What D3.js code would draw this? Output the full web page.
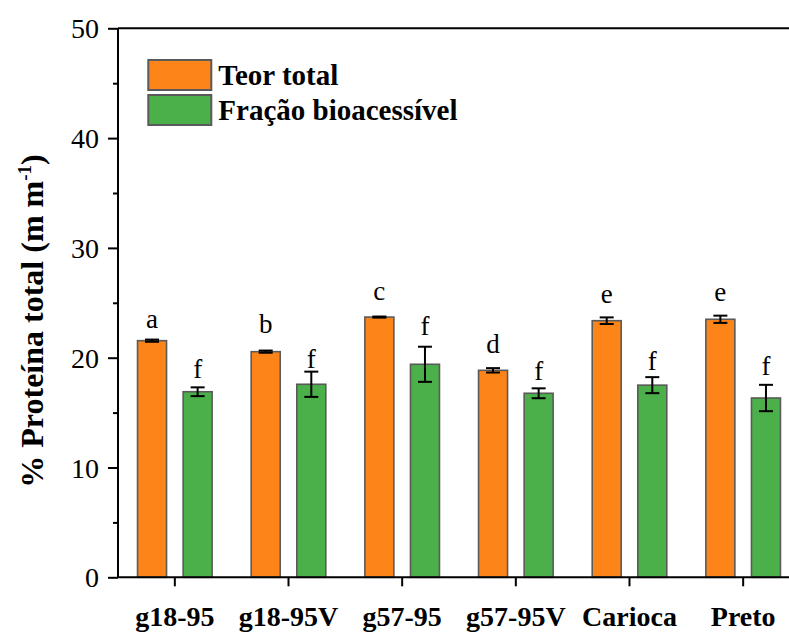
<!DOCTYPE html>
<html>
<head>
<meta charset="utf-8">
<script src="https://cdn.jsdelivr.net/npm/d3@7"></script>
<style>
  html, body { margin: 0; padding: 0; background: #fff; }
  svg { display: block; }
  svg text { font-family: "Times New Roman", "Liberation Serif", Times, serif !important; }
</style>
</head>
<body>
<svg id="chart" width="789" height="633"></svg>
<script>
// ---- Data ----
const categories = ["g18-95", "g18-95V", "g57-95", "g57-95V", "Carioca", "Preto"];
const seriesNames = ["Teor total", "Fração bioacessível"];
const teorTotal = [21.55, 20.55, 23.7, 18.85, 23.37, 23.5];
const teorTotalErr = [0.1, 0.1, 0.05, 0.2, 0.3, 0.33];
const fracao = [16.9, 17.58, 19.4, 16.76, 17.5, 16.33];
const fracaoErr = [0.4, 1.15, 1.6, 0.45, 0.73, 1.2];
const teorLetters = ["a", "b", "c", "d", "e", "e"];
const fracaoLetters = ["f", "f", "f", "f", "f", "f"];
const teorLetterAt = [22.7, 22.25, 25.25, 20.45, 24.95, 25.2];
const fracaoLetterAt = [18.15, 19.06, 22.07, 17.97, 18.88, 18.42];
const yTicks = [0, 10, 20, 30, 40, 50];
const yMinorTicks = [5, 15, 25, 35, 45];

const colors = ["#fc8418", "#4cb04a"];

// ---- Layout ----
const svg = d3.select("#chart");
const mLeft = 118, mRight = 800, mTop = 28.3, mBottom = 577.3;

const x = d3.scaleBand().domain(categories).range([mLeft, mRight]);
const xSub = d3.scaleBand().domain(seriesNames)
  .range([x.bandwidth() / 2 - 37.3, x.bandwidth() / 2 + 37.3]).paddingInner(0.364);
const y = d3.scaleLinear().domain([0, 50]).range([mBottom, mTop]);

const rows = categories.map((c, i) => ({
  cat: c,
  items: [
    { s: seriesNames[0], v: teorTotal[i], e: teorTotalErr[i], l: teorLetters[i], la: teorLetterAt[i], col: colors[0] },
    { s: seriesNames[1], v: fracao[i], e: fracaoErr[i], l: fracaoLetters[i], la: fracaoLetterAt[i], col: colors[1] }
  ]
}));

const g = svg.selectAll("g.cat").data(rows).join("g")
  .attr("class", "cat")
  .attr("transform", d => `translate(${x(d.cat)},0)`);

// bars
g.selectAll("rect").data(d => d.items).join("rect")
  .attr("x", d => xSub(d.s))
  .attr("width", xSub.bandwidth())
  .attr("y", d => y(d.v))
  .attr("height", d => y(0) - y(d.v))
  .attr("fill", d => d.col)
  .attr("stroke", "#5a5a5a")
  .attr("stroke-width", 1.6);

// error bars
const eb = g.selectAll("g.err").data(d => d.items).join("g").attr("class", "err")
  .attr("transform", d => `translate(${xSub(d.s) + xSub.bandwidth() / 2},0)`);
eb.append("line").attr("x1", 0).attr("x2", 0)
  .attr("y1", d => y(d.v + d.e)).attr("y2", d => y(d.v - d.e))
  .attr("stroke", "#000").attr("stroke-width", 2);
eb.append("line").attr("x1", -7).attr("x2", 7)
  .attr("y1", d => y(d.v + d.e)).attr("y2", d => y(d.v + d.e))
  .attr("stroke", "#000").attr("stroke-width", 2);
eb.append("line").attr("x1", -7).attr("x2", 7)
  .attr("y1", d => y(d.v - d.e)).attr("y2", d => y(d.v - d.e))
  .attr("stroke", "#000").attr("stroke-width", 2);

// letters
g.selectAll("text.letter").data(d => d.items).join("text")
  .attr("class", "letter")
  .attr("x", d => xSub(d.s) + xSub.bandwidth() / 2)
  .attr("y", d => y(d.la))
  .attr("text-anchor", "middle")
  .attr("font-size", 27)
  .attr("fill", "#000")
  .text(d => d.l);

// ---- Axes ----
// top border
svg.append("line").attr("x1", mLeft).attr("x2", 789).attr("y1", mTop).attr("y2", mTop)
  .attr("stroke", "#000").attr("stroke-width", 2);

const yAxis = svg.append("g").attr("transform", `translate(${mLeft},0)`)
  .call(d3.axisLeft(y).tickValues(yTicks).tickSize(10).tickPadding(9).tickFormat(d3.format("d")));
yAxis.attr("font-family", null);
yAxis.select(".domain").attr("stroke-width", 2).attr("d", `M0,${mBottom}V${mTop}`);
yAxis.selectAll(".tick line").attr("stroke-width", 2);
yAxis.selectAll(".tick text").attr("font-size", 28).attr("fill", "#000").attr("dy", "0.34em");

const yMinor = svg.append("g").attr("transform", `translate(${mLeft},0)`)
  .call(d3.axisLeft(y).tickValues(yMinorTicks).tickSize(5).tickFormat(""));
yMinor.select(".domain").remove();
yMinor.selectAll(".tick line").attr("stroke-width", 2);

const xAxis = svg.append("g").attr("transform", `translate(0,${mBottom})`)
  .call(d3.axisBottom(x).tickSize(9).tickPadding(20));
xAxis.attr("font-family", null);
xAxis.select(".domain").attr("stroke-width", 2).attr("d", `M${mLeft},0H789`);
xAxis.selectAll(".tick line").attr("stroke-width", 2);
xAxis.selectAll(".tick text").attr("font-size", 28).attr("font-weight", "bold").attr("fill", "#000");

// y label
const yl = svg.append("text")
  .attr("transform", `translate(43,321) rotate(-90)`)
  .attr("text-anchor", "middle")
  .attr("font-size", 32).attr("font-weight", "bold").attr("fill", "#000");
yl.append("tspan").text("% Proteína total (m m");
yl.append("tspan").attr("font-size", 19).attr("dy", -12).text("-1");
yl.append("tspan").attr("dy", 12).text(")");

// legend
const leg = svg.append("g").selectAll("g").data(seriesNames).join("g")
  .attr("transform", (d, i) => `translate(148.3,${60 + i * 35})`);
leg.append("rect").attr("width", 63).attr("height", 30)
  .attr("fill", (d, i) => colors[i]).attr("stroke", "#5a5a5a").attr("stroke-width", 2);
leg.append("text").attr("x", 70).attr("y", 25)
  .attr("font-size", 29).attr("font-weight", "bold").attr("fill", "#000")
  .text(d => d);
</script>
</body>
</html>
